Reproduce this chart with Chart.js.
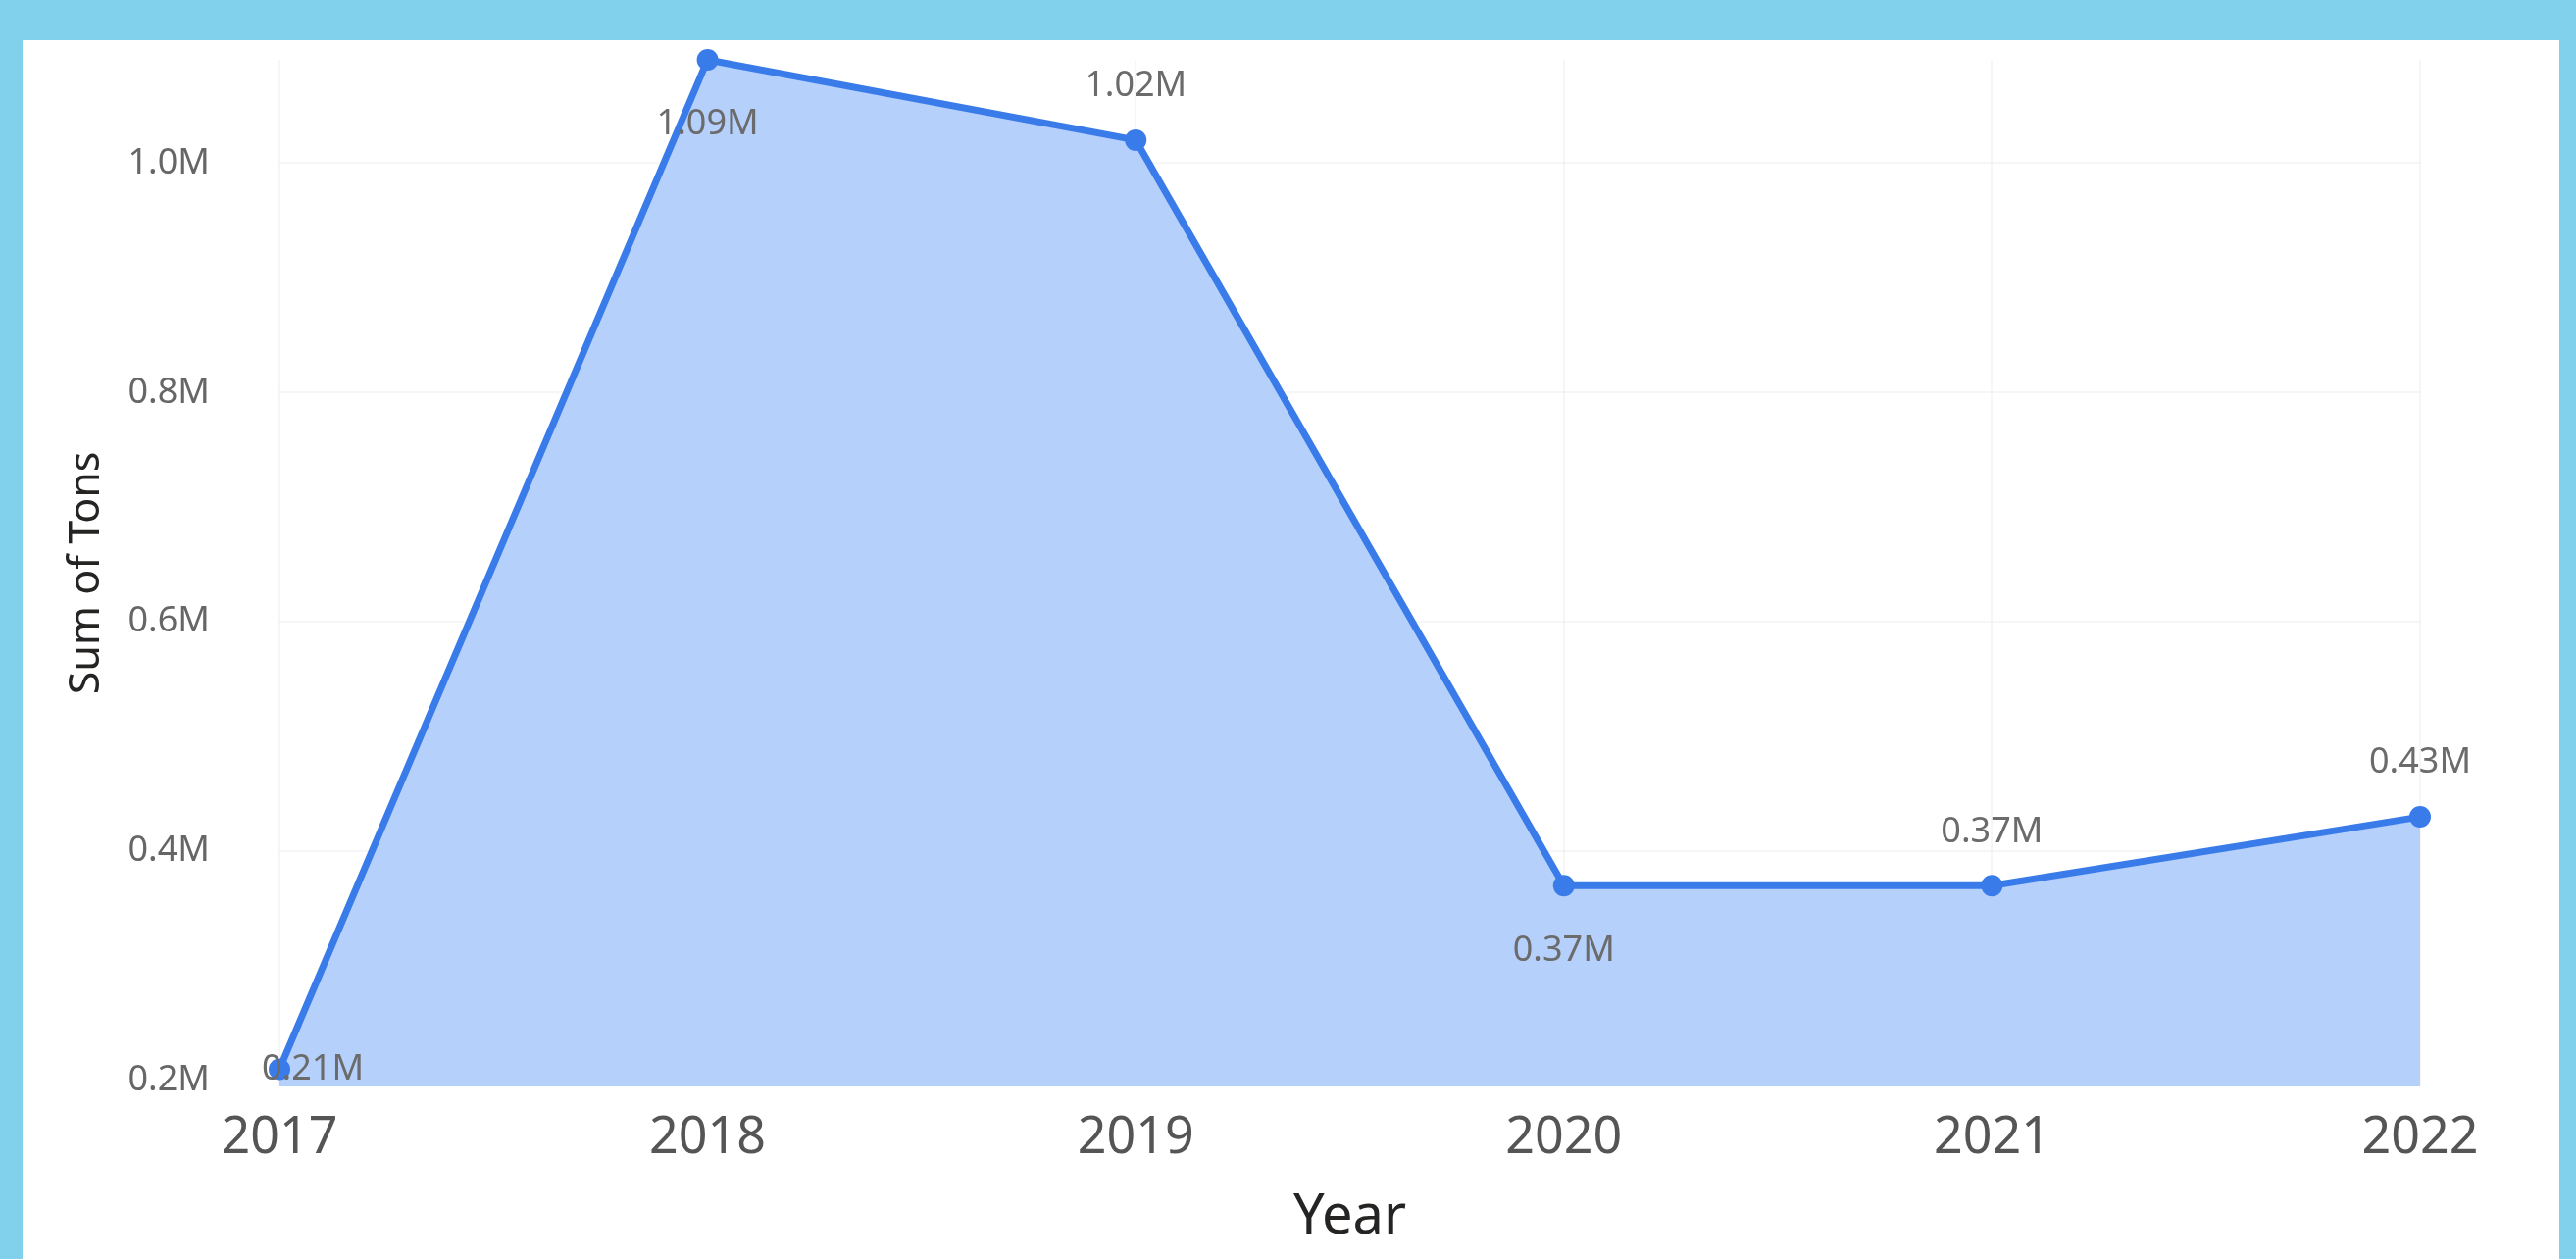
<!DOCTYPE html>
<html>
<head>
<meta charset="utf-8">
<script src="https://cdn.jsdelivr.net/npm/chart.js@4.4.1/dist/chart.umd.min.js"></script>
<style>
  html, body { margin: 0; padding: 0; }
  body { width: 2627px; height: 1284px; background: #81d1ed; position: relative; overflow: hidden; }
  #panel { position: absolute; left: 23px; top: 41px; width: 2587px; height: 1243px; background: #ffffff; }
</style>
</head>
<body>
<div id="panel"><canvas id="area-chart"></canvas></div>
<script>
// data
var years = ["2017", "2018", "2019", "2020", "2021", "2022"];
var tons = [210000, 1090000, 1020000, 370000, 370000, 430000];
var tonLabels = ["0.21M", "1.09M", "1.02M", "0.37M", "0.37M", "0.43M"];
var yTicks = [200000, 400000, 600000, 800000, 1000000];

// where each value label sits relative to its point
var labelPlace = ["right", "below", "above", "below", "above", "above"];

var canvas = document.getElementById("area-chart");
canvas.width = 2587;
canvas.height = 1243;
var ctx = canvas.getContext("2d");

var valueLabels = {
  id: 'valueLabels',
  afterDatasetsDraw: function (chart) {
    var meta = chart.getDatasetMeta(0);
    var c = chart.ctx;
    c.save();
    c.font = '36px "Noto Sans"';
    c.fillStyle = '#6b6b6b';
    c.textAlign = 'center';
    c.textBaseline = 'middle';
    meta.data.forEach(function (pt, i) {
      var x = pt.x, y = pt.y;
      if (labelPlace[i] == 'above') y -= 55;
      else if (labelPlace[i] == 'below') y += 66;
      else x += 34;
      c.fillText(tonLabels[i], x, y);
    });
    c.restore();
  }
};

var config = {
  type: 'line',
  data: {
    labels: years,
    datasets: [{
      label: 'Sum of Tons',
      data: tons,
      borderColor: '#3a7bea',
      backgroundColor: '#b4d0fb',
      borderWidth: 7,
      fill: 'start',
      tension: 0,
      clip: false,
      pointRadius: 11,
      pointHoverRadius: 11,
      pointBackgroundColor: '#3a7bea',
      pointBorderColor: '#3a7bea',
      pointBorderWidth: 0
    }]
  },
  options: {
    responsive: false,
    animation: false,
    layout: { padding: { top: 20, right: 142, left: 0, bottom: 0 } },
    plugins: {
      legend: { display: false },
      tooltip: { enabled: false }
    },
    scales: {
      x: {
        offset: false,
        border: { display: false },
        grid: { color: 'rgba(0,0,0,0.035)', lineWidth: 2, drawTicks: false },
        ticks: {
          padding: 22,
          color: '#555555',
          font: { family: 'Noto Sans', size: 52 },
          maxRotation: 0
        },
        title: {
          display: true,
          text: 'Year',
          color: '#252423',
          font: { family: 'Noto Sans', size: 56 },
          padding: { top: 0, bottom: 8 }
        },
        afterFit: function (axis) { axis.height = 176; }
      },
      y: {
        min: 195000,
        max: 1090000,
        border: { display: false },
        grid: { color: 'rgba(0,0,0,0.035)', lineWidth: 2, drawTicks: false },
        ticks: {
          padding: 71,
          color: '#666666',
          font: { family: 'Noto Sans', size: 36 },
          callback: function (v) { return (v / 1000000).toFixed(1) + 'M'; }
        },
        afterBuildTicks: function (axis) {
          axis.ticks = yTicks.map(function (v) { return { value: v }; });
        },
        title: {
          display: true,
          text: 'Sum of Tons',
          color: '#252423',
          font: { family: 'Noto Sans', size: 43 },
          padding: { top: 40, bottom: 0 }
        },
        afterFit: function (axis) {
          axis.width = 262;
          axis.paddingTop = 0;
          axis.paddingBottom = 0;
        }
      }
    }
  },
  plugins: [valueLabels]
};

window.myArea = new Chart(ctx, config);
</script>
</body>
</html>
